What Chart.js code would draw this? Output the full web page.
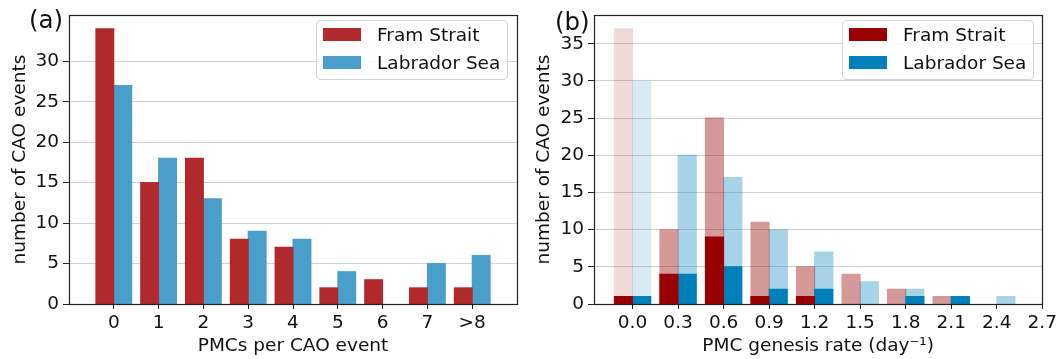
<!DOCTYPE html>
<html>
<head>
<meta charset="utf-8">
<script src="https://cdn.jsdelivr.net/npm/chart.js@4.4.1/dist/chart.umd.min.js"></script>
<style>
  body { margin: 0; background: #fff; font-family: "DejaVu Sans", sans-serif; color: #111; }
  #wrap { position: relative; width: 1060px; height: 359px; overflow: hidden; }
  .panel { position: absolute; top: 0; width: 530px; height: 359px; }
  .tag { position: absolute; font-size: 24.5px; line-height: 1; }
  .legend { position: absolute; width: 192px; height: 60px; border: 1px solid #d4d4d4; border-radius: 4px;
            background: rgba(255,255,255,0.85); box-sizing: border-box; }
  .sw { position: absolute; left: 6px; width: 38px; height: 13px; }
  .lt { position: absolute; left: 60px; font-size: 18.5px; line-height: 1; white-space: nowrap; }
</style>
</head>
<body>
<div id="wrap">
  <div class="panel" style="left:0"><canvas id="chartA" width="530" height="359"></canvas></div>
  <div class="panel" style="left:530px"><canvas id="chartB" width="530" height="359"></canvas></div>

  <div class="tag" style="left:29px;top:8px">(a)</div>
  <div class="tag" style="left:555px;top:10px">(b)</div>

  <div class="legend" style="left:316px;top:20px">
    <span class="sw" style="top:7px;background:#b0292c"></span><span class="lt" style="top:5px">Fram Strait</span>
    <span class="sw" style="top:35px;background:#4a9ecb"></span><span class="lt" style="top:33px">Labrador Sea</span>
  </div>
  <div class="legend" style="left:842px;top:20px">
    <span class="sw" style="top:7px;background:#990000"></span><span class="lt" style="top:5px">Fram Strait</span>
    <span class="sw" style="top:35px;background:#0080bb"></span><span class="lt" style="top:33px">Labrador Sea</span>
  </div>
</div>

<script>
// (a) PMCs per CAO event
const catsA = ["0", "1", "2", "3", "4", "5", "6", "7", ">8"];
const framA = [34, 15, 18, 8, 7, 2, 3, 2, 2];
const labA = [27, 18, 13, 9, 8, 4, 0, 5, 6];
const yTicksA = [0, 5, 10, 15, 20, 25, 30];

// (b) PMC genesis rate, all events (light) and subset (dark)
const ratesB = [0.0, 0.3, 0.6, 0.9, 1.2, 1.5, 1.8, 2.1, 2.4];
const framAllB = [37, 10, 25, 11, 5, 4, 2, 1, 0];
const labAllB = [30, 20, 17, 10, 7, 3, 2, 1, 1];
const framSubB = [1, 4, 9, 1, 1, 0, 0, 0, 0];
const labSubB = [1, 4, 5, 2, 2, 0, 1, 1, 0];
const xTicksB = [0.0, 0.3, 0.6, 0.9, 1.2, 1.5, 1.8, 2.1, 2.4, 2.7];
const yTicksB = [0, 5, 10, 15, 20, 25, 30, 35];

Chart.defaults.font.family = "DejaVu Sans";
Chart.defaults.font.size = 18.5;
Chart.defaults.color = "#111";

const gridCol = "rgba(150,150,150,0.45)";

// рамка вокруг области графика
const framePlugin = {
  id: "frame",
  afterDraw(chart) {
    const a = chart.chartArea;
    const c = chart.ctx;
    c.save();
    c.strokeStyle = "#222";
    c.lineWidth = 1.2;
    c.strokeRect(Math.round(a.left) + 0.5, Math.round(a.top) + 0.5,
      Math.round(a.right - a.left), Math.round(a.bottom - a.top));
    c.restore();
  },
};

function points(xs, ys) {
  return ys.map((y, i) => ({ x: xs[i], y: y }));
}

function yAxis(max, ticks, axisWidth, titlePad) {
  return {
    min: 0,
    max: max,
    stacked: false,
    z: 1,
    border: { display: false },
    grid: { color: gridCol, lineWidth: 1, tickLength: 6, tickColor: "#222" },
    ticks: { padding: 4, autoSkip: false },
    afterBuildTicks: (s) => { s.ticks = ticks.map((v) => ({ value: v })); },
    afterFit: (s) => { s.width = axisWidth; },
    title: { display: true, text: "number of CAO events", padding: { top: titlePad, bottom: 0 } },
  };
}

function xAxis(min, max, tickVals, label, title) {
  return {
    type: "linear",
    min: min,
    max: max,
    offset: false,
    border: { display: false },
    grid: { offset: false, drawOnChartArea: false, tickLength: 5, tickColor: "#222" },
    ticks: { padding: 3, autoSkip: false, maxRotation: 0, callback: label },
    afterBuildTicks: (s) => { s.ticks = tickVals.map((v) => ({ value: v })); },
    afterFit: (s) => { s.height = 55; },
    title: { display: true, text: title, padding: { top: 0, bottom: 2 } },
  };
}

const commonOpts = {
  responsive: false,
  animation: false,
  plugins: { legend: { display: false }, tooltip: { enabled: false } },
};

// нулевые столбцы не раздуваем, чтобы не было тонких полосок
const barOpts = {
  categoryPercentage: 0.8,
  barPercentage: 1.0,
  inflateAmount: (ctx) => (ctx.raw && ctx.raw.y === 0 ? 0 : 0.5),
};

// ГРАФИК (a)
const xA = catsA.map((c, i) => i);
new Chart(document.getElementById("chartA"), {
  type: "bar",
  data: {
    datasets: [
      { label: "Fram Strait", data: points(xA, framA), backgroundColor: "#b0292c", ...barOpts },
      { label: "Labrador Sea", data: points(xA, labA), backgroundColor: "#4a9ecb", ...barOpts },
    ],
  },
  options: {
    ...commonOpts,
    layout: { padding: { top: 10, right: 13, left: 0, bottom: 0 } },
    scales: {
      x: xAxis(-1, 9, xA, (v) => catsA[v], "PMCs per CAO event"),
      y: yAxis(35.7, yTicksA, 69, 9),
    },
  },
  plugins: [framePlugin],
});

// ГРАФИК (b)
const pale = (r, g, b, a) => ratesB.map((v, i) => `rgba(${r},${g},${b},${i === 0 ? 0.15 : a})`);
new Chart(document.getElementById("chartB"), {
  type: "bar",
  data: {
    datasets: [
      { label: "Fram Strait", data: points(ratesB, framSubB), backgroundColor: "#990000",
        stack: "fram", ...barOpts },
      { label: "Labrador Sea", data: points(ratesB, labSubB), backgroundColor: "#0080bb",
        stack: "lab", ...barOpts },
      { label: "Fram Strait (all)", data: points(ratesB, framAllB), backgroundColor: pale(153, 0, 0, 0.4),
        stack: "fram", ...barOpts },
      { label: "Labrador Sea (all)", data: points(ratesB, labAllB), backgroundColor: pale(0, 128, 187, 0.35),
        stack: "lab", ...barOpts },
    ],
  },
  options: {
    ...commonOpts,
    layout: { padding: { top: 10, right: 17, left: 0, bottom: 0 } },
    scales: {
      x: xAxis(-0.254, 2.7, xTicksB, (v) => v.toFixed(1), "PMC genesis rate (day⁻¹)"),
      y: yAxis(38.85, yTicksB, 64, 3),
    },
  },
  plugins: [framePlugin],
});
</script>
</body>
</html>
